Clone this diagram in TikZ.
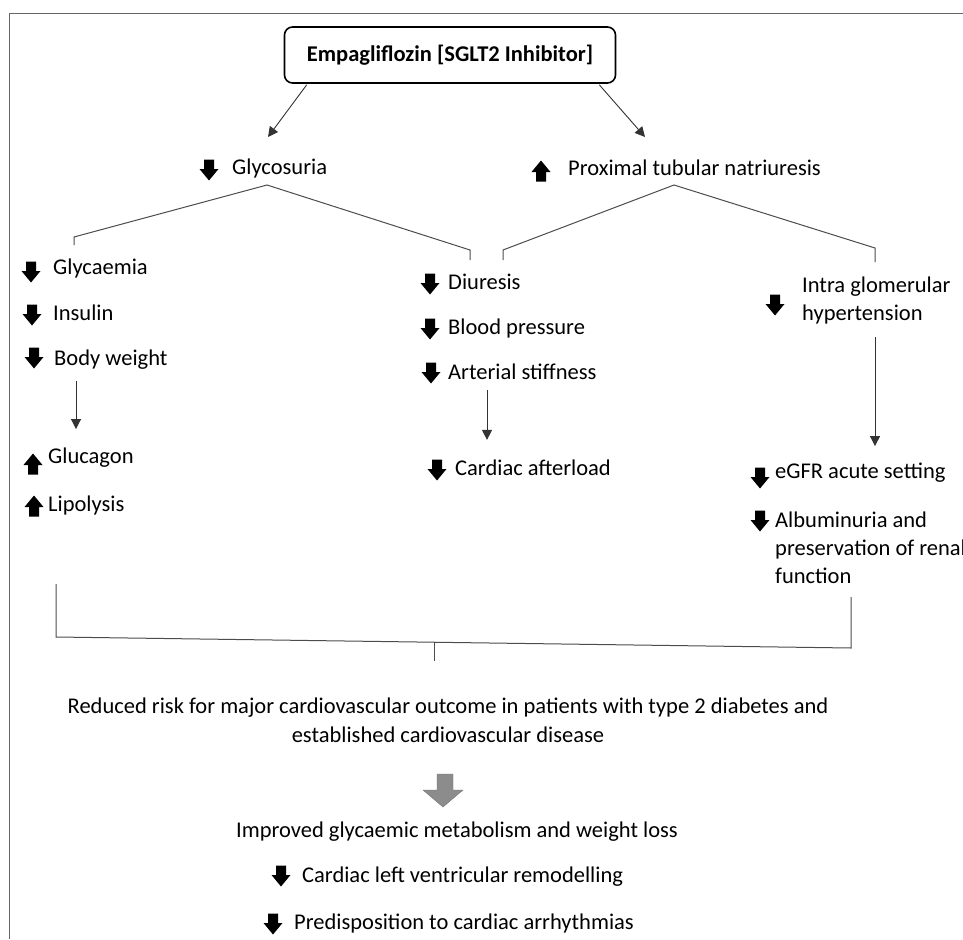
\documentclass[tikz,border=0pt]{standalone}
\usepackage{fontspec}
\setmainfont{Carlito}
\usetikzlibrary{arrows.meta}

\tikzset{
  lbl/.style={anchor=west, inner sep=0pt, align=left, font=\fontsize{22.5}{28}\selectfont},
  midtxt/.style={inner sep=0pt, align=center, font=\fontsize{22.5}{29}\selectfont},
  topbox/.style={draw, line width=1.6pt, rounded corners=8pt, minimum width=331pt, minimum height=56pt, font=\bfseries\fontsize{22.5}{26}\selectfont},
  link/.style={draw=black!70, line width=1pt},
  flow/.style={draw=black!80, line width=0.9pt, -{Triangle[length=10pt,width=10pt]}},
  dnarr/.pic={\fill (-5,-10.5) -- (5,-10.5) -- (5,-1) -- (9.5,-1) -- (0,10.5) -- (-9.5,-1) -- (-5,-1) -- cycle;},
  uparr/.pic={\fill (-5,10.5) -- (5,10.5) -- (5,1) -- (9.5,1) -- (0,-10.5) -- (-9.5,1) -- (-5,1) -- cycle;},
}

\begin{document}
\begin{tikzpicture}[x=1pt,y=-1pt]
\useasboundingbox (0,0) rectangle (963,939);
% frame
\draw[black!60, line width=1pt] (9,939) -- (9,14) -- (963,14);

% drug
\node[topbox] (drug) at (450,55) {Empagliflozin [SGLT2 Inhibitor]};

% first level
\pic at (209,170) {dnarr};
\node[lbl] (glyco) at (232,169) {Glycosuria};
\pic at (541,171) {uparr};
\node[lbl] (natri) at (568,168) {Proximal tubular natriuresis};
\coordinate (gtip) at (268,137);
\coordinate (ptip) at (645,137);
\draw[flow] (drug.south west) ++(23,1) -- (gtip);
\draw[flow] (drug.south east) ++(-17,1) -- (ptip);

% brackets
\coordinate (gapex) at (267,185);
\coordinate (papex) at (674,185);
\draw[link] (74,245) -- (74,237) -- (gapex) -- (470,250) -- (470,260);
\draw[link] (503,260) -- (503,250) -- (papex) -- (875,248) -- (875,262);

% left column
\pic at (31,272) {dnarr};
\node[lbl] (glycae) at (53,268) {Glycaemia};
\pic at (32,315) {dnarr};
\node[lbl] (insulin) at (53,313) {Insulin};
\pic at (34,358) {dnarr};
\node[lbl] (bodyw) at (54,360) {Body weight};
\pic at (33,464) {uparr};
\node[lbl] (glucagon) at (48,458) {Glucagon};
\pic at (34,506) {uparr};
\node[lbl] (lipo) at (48,505) {Lipolysis};
\draw[flow, shorten <=11pt, shorten >=19pt] (bodyw.south -| 76,0) -- (glucagon.north -| 76,0);

% middle column
\pic at (430,284) {dnarr};
\node[lbl] (diur) at (448,282) {Diuresis};
\pic at (430,329) {dnarr};
\node[lbl] (bp) at (448,328) {Blood pressure};
\pic at (431,373) {dnarr};
\node[lbl] (stiff) at (448,372) {Arterial stiffness};
\pic at (437,470) {dnarr};
\node[lbl] (after) at (455,468) {Cardiac afterload};
\draw[flow, shorten <=10pt, shorten >=20pt] (stiff.south -| 487,0) -- (after.north -| 487,0);

% right column
\pic at (775,305) {dnarr};
\node[lbl] (intra) at (802,300) {Intra glomerular\\hypertension};
\pic at (760,478) {dnarr};
\node[lbl] (egfr) at (775,473) {eGFR acute setting};
\pic at (760,521) {dnarr};
\node[lbl] (album) at (775,548) {Albuminuria and\\preservation of renal\\function};
\draw[flow, shorten <=13pt, shorten >=17pt] (intra.south -| 875,0) -- (egfr.north -| 875,0);

% outcome bracket
\draw[link] (56,584) -- (56,637) -- (851,648) -- (851,597);
\draw[link] (434,642) -- (434,661);

% outcome
\node[midtxt] (risk) at (448,720) {Reduced risk for major cardiovascular outcome in patients with type 2 diabetes and\\established cardiovascular disease};
\fill[black!45, draw=black!55] (437,774) -- (453,774) -- (453,790) -- (463,790) -- (443,807) -- (423,790) -- (437,790) -- cycle;
\node[midtxt] (improv) at (457,832) {Improved glycaemic metabolism and weight loss};
\pic at (281,876) {dnarr};
\node[lbl] (remod) at (302,877) {Cardiac left ventricular remodelling};
\pic at (273,924) {dnarr};
\node[lbl] (arrhy) at (294,923) {Predisposition to cardiac arrhythmias};
\end{tikzpicture}
\end{document}
